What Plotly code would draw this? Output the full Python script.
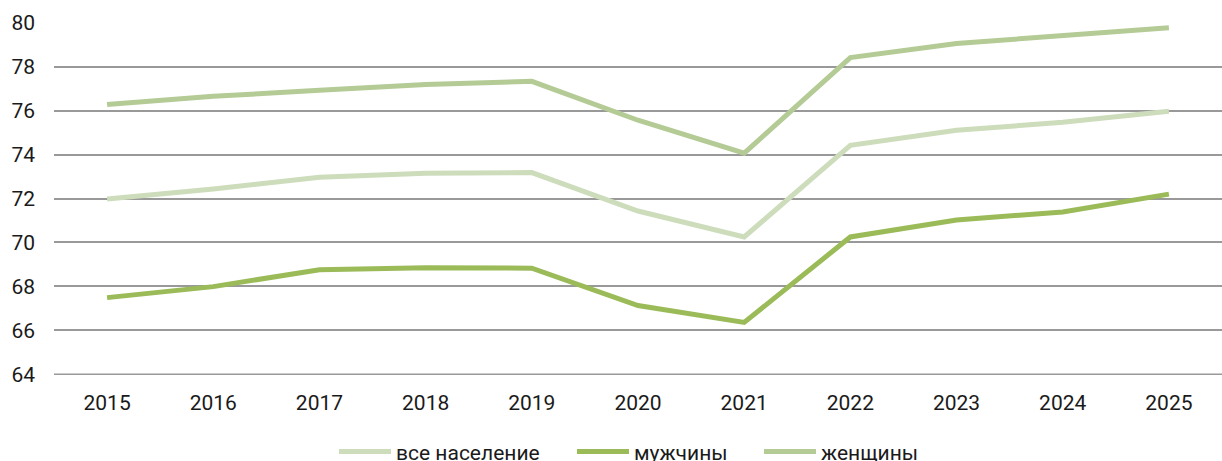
import plotly.graph_objects as go

years = ["2015", "2016", "2017", "2018", "2019", "2020", "2021", "2022", "2023", "2024", "2025"]
total = [71.98, 72.43, 72.97, 73.15, 73.18, 71.43, 70.25, 74.42, 75.10, 75.47, 75.97]
men = [67.49, 67.99, 68.76, 68.85, 68.83, 67.13, 66.36, 70.25, 71.02, 71.39, 72.20]
women = [76.28, 76.65, 76.92, 77.19, 77.33, 75.56, 74.06, 78.41, 79.05, 79.41, 79.77]

series = [
    ("все население", total, "#cddcbb", "legend"),
    ("мужчины", men, "#9bbb59", "legend2"),
    ("женщины", women, "#b4cb96", "legend3"),
]
legend_left_px = [334, 572, 759]

fig = go.Figure()
for name, vals, color, lg in series:
    fig.add_trace(go.Scatter(x=years, y=vals, name=name, mode="lines", legend=lg,
                             line=dict(color=color, width=5)))

def legend_cfg(px):
    return dict(orientation="h", x=px / 1222, xanchor="left", xref="container",
                y=0.02, yanchor="middle", yref="container",
                font=dict(size=21), itemwidth=52, bgcolor="rgba(0,0,0,0)")

fig.add_shape(type="line", xref="paper", yref="y", x0=0, x1=1, y0=64, y1=64,
              line=dict(color="#999999", width=1.5), layer="below")

fig.update_layout(
    width=1222, height=461,
    margin=dict(l=54, r=0, t=22, b=86),
    plot_bgcolor="white", paper_bgcolor="white",
    font=dict(family="Roboto", size=21, color="#1a1a1a"),
    showlegend=True,
    legend=legend_cfg(legend_left_px[0]),
    legend2=legend_cfg(legend_left_px[1]),
    legend3=legend_cfg(legend_left_px[2]),
    xaxis=dict(type="category", range=[-0.5, 10.5], showgrid=False, zeroline=False,
               showline=False, ticks="", ticklabelstandoff=13),
    yaxis=dict(range=[63.97, 80.03], tickvals=[64, 66, 68, 70, 72, 74, 76, 78, 80],
               showgrid=True, gridcolor="#999999", gridwidth=1.5,
               zeroline=False, showline=False, ticks="", ticklabelstandoff=18),
)

fig.write_html("out.html", config={"displayModeBar": False},
               post_script="document.body.style.margin='0';")
